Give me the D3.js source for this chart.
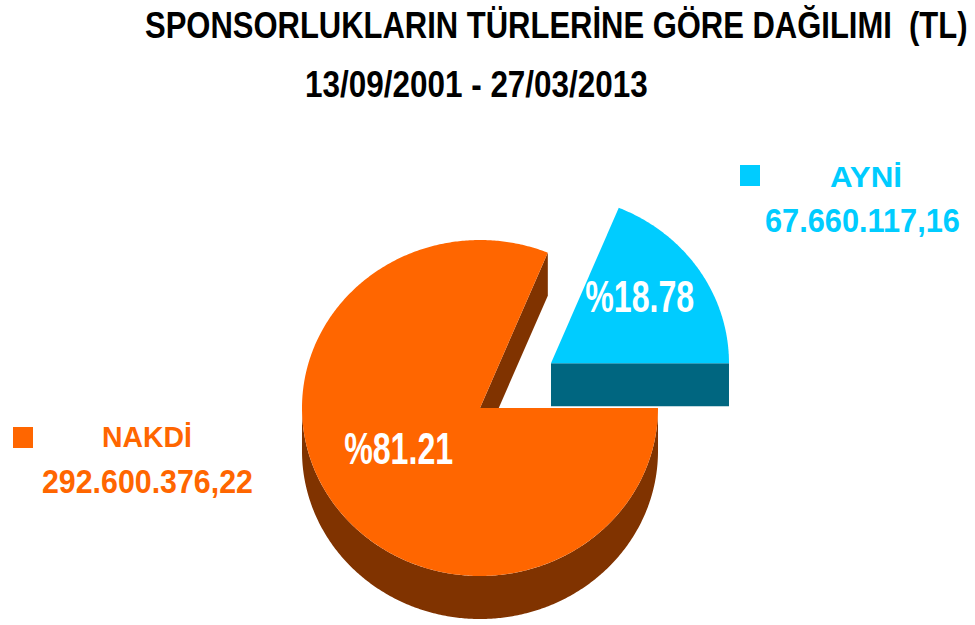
<!DOCTYPE html>
<html>
<head>
<meta charset="utf-8">
<script src="https://cdn.jsdelivr.net/npm/d3@7"></script>
<style>
  body { margin: 0; background: #fff; }
  svg { display: block; }
  text { font-family: "Liberation Sans", Arial, sans-serif; font-weight: bold; white-space: pre; }
</style>
</head>
<body>
<svg id="chart"></svg>
<script>
// chart data
const categories = ["AYNİ", "NAKDİ"];
const values = [67660117.16, 292600376.22];
const valueLabels = ["67.660.117,16", "292.600.376,22"];
const percentLabels = ["%18.78", "%81.21"];
const titleLines = ["SPONSORLUKLARIN TÜRLERİNE GÖRE DAĞILIMI  (TL)", "13/09/2001 - 27/03/2013"];

const topColors = ["#00CCFF", "#FF6600"];
const sideColors = ["#006680", "#803300"];

const width = 975, height = 625;
const svg = d3.select("#chart").attr("width", width).attr("height", height);

// pie geometry (tilted ellipse + depth)
const cx = 480, cy = 408, rx = 178, ry = 168, depth = 43;
const explode = [0.48, 0];

const total = d3.sum(values);
const start = Math.PI / 2 - values[0] / total * 2 * Math.PI; // first slice ends at 3 o'clock
const arcs = d3.pie().sort(null).startAngle(start).endAngle(start + 2 * Math.PI)(values);

const line = d3.line();
const proj = (a, t, ox, oy, z = 0) => [ox + t * rx * Math.sin(a), oy - t * ry * Math.cos(a) + z];

function arcPoints(a0, a1, ox, oy, z) {
    const n = Math.max(2, Math.ceil(Math.abs(a1 - a0) / 0.01));
    return d3.range(n + 1).map(i => proj(a0 + (a1 - a0) * i / n, 1, ox, oy, z));
}

const pieG = svg.append("g");

arcs.forEach((d, i) => {
    const mid = (d.startAngle + d.endAngle) / 2;
    const [ox, oy] = proj(mid, explode[i], cx, cy);
    const g = pieG.append("g");

    // outer wall: only the front half (angles between 90 and 270 degrees) is visible
    [0, 2 * Math.PI].forEach(k => {
        const lo = Math.max(d.startAngle, Math.PI / 2 + k);
        const hi = Math.min(d.endAngle, 3 * Math.PI / 2 + k);
        if (hi - lo > 0.001) {
            const pts = arcPoints(lo, hi, ox, oy, 0).concat(arcPoints(hi, lo, ox, oy, depth));
            g.append("path").attr("d", line(pts) + "Z").attr("fill", sideColors[i]);
        }
    });

    // radial side faces
    const face = a => [proj(a, 0, ox, oy), proj(a, 1, ox, oy), proj(a, 1, ox, oy, depth), proj(a, 0, ox, oy, depth)];
    if (Math.sin(d.endAngle) > 0)
        g.append("path").attr("d", line(face(d.endAngle)) + "Z").attr("fill", sideColors[i]);
    if (Math.sin(d.startAngle) < 0)
        g.append("path").attr("d", line(face(d.startAngle)) + "Z").attr("fill", sideColors[i]);

    // top face
    const top = [proj(0, 0, ox, oy)].concat(arcPoints(d.startAngle, d.endAngle, ox, oy, 0));
    g.append("path").attr("d", line(top) + "Z").attr("fill", topColors[i]);
});

// narrow text: draw at natural width, then squeeze horizontally to the wanted width
function txt(str, x, y, size, len, color, anchor = "start") {
    const g = svg.append("g");
    const t = g.append("text")
        .attr("font-size", size)
        .attr("text-anchor", anchor)
        .attr("fill", color)
        .text(str);
    const w = t.node().getBBox().width;
    g.attr("transform", `translate(${x},${y}) scale(${len / w},1)`);
    return t;
}

// percent labels on the slices
const labelPos = [0.6, 0.55];
arcs.forEach((d, i) => {
    const mid = (d.startAngle + d.endAngle) / 2;
    const [ox, oy] = proj(mid, explode[i], cx, cy);
    const [x, y] = proj(mid, labelPos[i], ox, oy);
    txt(percentLabels[i], x, y + 5, 45, 109, "#fff", "middle");
});

// titles
txt(titleLines[0], 145, 38, 37, 823, "#000");
txt(titleLines[1], 305, 97, 37, 343, "#000");

// legend entries
const legend = [
    { sq: [740, 165], name: [830, 187, 72], val: [765, 232, 195] },
    { sq: [13, 427], name: [102, 447, 90], val: [42, 493, 211] }
];
legend.forEach((l, i) => {
    svg.append("rect").attr("x", l.sq[0]).attr("y", l.sq[1]).attr("width", 20).attr("height", 21).attr("fill", topColors[i]);
    txt(categories[i], l.name[0], l.name[1], 30, l.name[2], topColors[i]);
    txt(valueLabels[i], l.val[0], l.val[1], 33, l.val[2], topColors[i]);
});
</script>
</body>
</html>
